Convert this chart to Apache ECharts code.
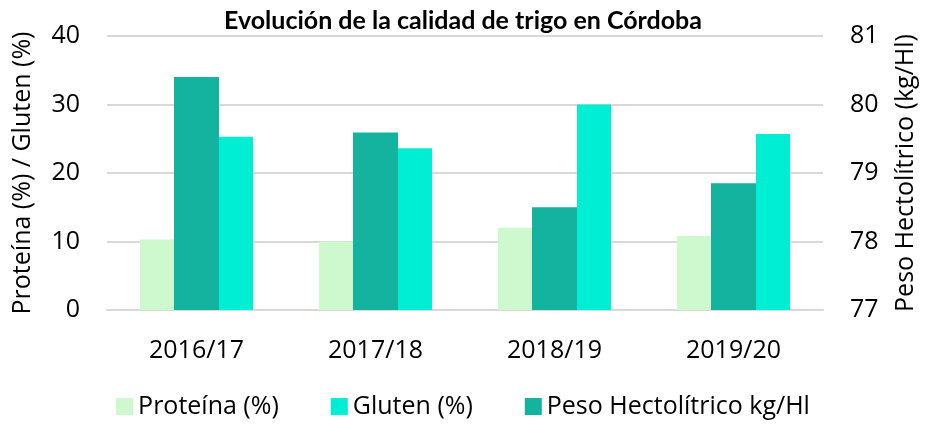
<!DOCTYPE html>
<html>
<head>
<meta charset="utf-8">
<script src="https://cdn.jsdelivr.net/npm/echarts@6/dist/echarts.min.js"></script>
<style>
  html, body { margin: 0; padding: 0; background: #fff; }
  #chart { width: 926px; height: 424px; }
</style>
</head>
<body>
<div id="chart"></div>
<script>
// campaigns
var campanias = ['2016/17', '2017/18', '2018/19', '2019/20']
// left axis (%)
var proteina = [10.3, 10.0, 12.0, 10.8]
var gluten = [25.3, 23.6, 30.0, 25.7]
// right axis (kg/Hl)
var pesoHect = [80.40, 79.59, 78.50, 78.85]

var leftTicks = { min: 0, max: 40, interval: 10 }
var rightTicks = { min: 77, max: 81, interval: 1 }

var txt = '#000'
var font = 'Open Sans'

var chart = echarts.init(document.getElementById('chart'))
chart.setOption({
  animation: false,
  title: {
    text: 'Evolución de la calidad de trigo en Córdoba',
    left: 'center',
    top: 3,
    textStyle: { fontFamily: 'Lato', fontWeight: 'bold', fontSize: 25, color: txt }
  },
  legend: {
    data: ['Proteína (%)', 'Gluten (%)', 'Peso Hectolítrico kg/Hl'],
    bottom: 0,
    left: 'center',
    itemWidth: 17,
    itemHeight: 17,
    itemGap: 52,
    icon: 'rect',
    textStyle: { fontFamily: font, fontSize: 25, color: txt }
  },
  grid: { left: 107, right: 101, top: 36, bottom: 114 },
  xAxis: {
    type: 'category',
    data: campanias,
    axisTick: { show: false },
    axisLine: { lineStyle: { color: '#d9d9d9', width: 2 } },
    axisLabel: { fontFamily: font, fontSize: 25, color: txt, margin: 28 }
  },
  yAxis: [
    {
      type: 'value',
      min: leftTicks.min, max: leftTicks.max, interval: leftTicks.interval,
      name: 'Proteína (%) / Gluten (%)',
      nameLocation: 'middle',
      nameRotate: 90,
      nameGap: 72,
      nameTextStyle: { fontFamily: font, fontSize: 25, color: txt },
      axisLine: { show: false },
      axisTick: { show: false },
      axisLabel: { fontFamily: font, fontSize: 25, color: txt, margin: 27 },
      splitLine: { lineStyle: { color: '#d9d9d9', width: 2 } }
    },
    {
      type: 'value',
      min: rightTicks.min, max: rightTicks.max, interval: rightTicks.interval,
      name: 'Peso Hectolítrico (kg/Hl)',
      nameLocation: 'middle',
      nameRotate: 90,
      nameGap: 70,
      nameTextStyle: { fontFamily: font, fontSize: 25, color: txt },
      axisLine: { show: false },
      axisTick: { show: false },
      axisLabel: { fontFamily: font, fontSize: 25, color: txt, margin: 27 },
      splitLine: { show: false }
    }
  ],
  series: [
    {
      name: 'Proteína (%)',
      type: 'bar',
      data: proteina,
      barWidth: 34,
      barGap: '0%',
      itemStyle: { color: '#cef8cd' }
    },
    {
      name: 'Peso Hectolítrico kg/Hl',
      type: 'bar',
      yAxisIndex: 1,
      data: pesoHect,
      barWidth: 45,
      barGap: '0%',
      itemStyle: { color: '#14b3a0' }
    },
    {
      name: 'Gluten (%)',
      type: 'bar',
      data: gluten,
      barWidth: 34,
      barGap: '0%',
      itemStyle: { color: '#00eed3' }
    }
  ]
})
</script>
</body>
</html>
